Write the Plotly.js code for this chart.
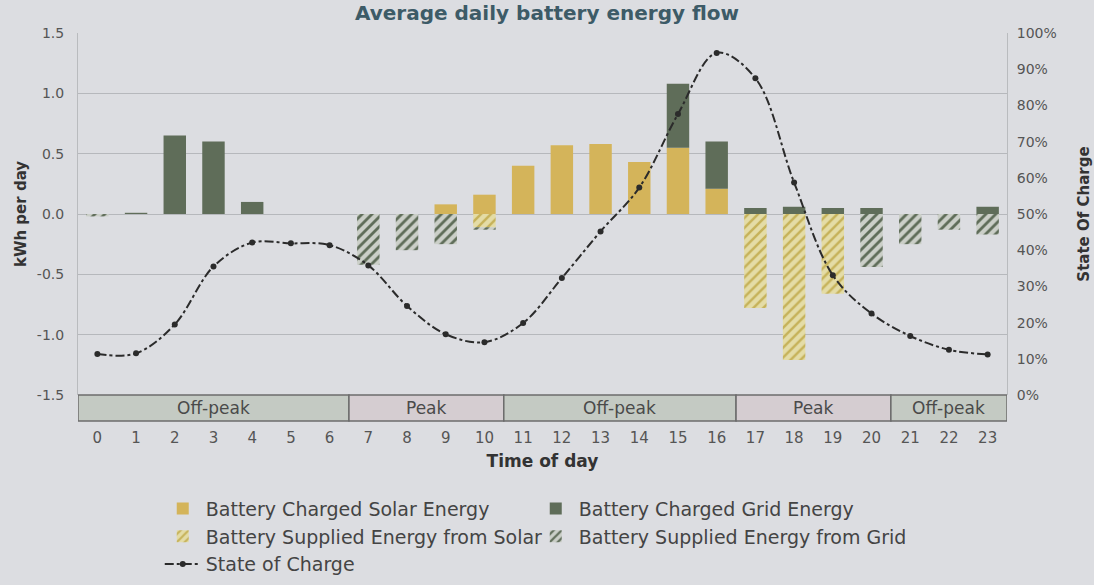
<!DOCTYPE html>
<html>
<head>
<meta charset="utf-8">
<script src="https://cdn.plot.ly/plotly-3.0.1.min.js"></script>
<style>html,body{margin:0;padding:0;background:#dcdde1;}</style>
</head>
<body>
<div id="chart" style="width:1094px;height:585px;"></div>
<script>
const hours = [0,1,2,3,4,5,6,7,8,9,10,11,12,13,14,15,16,17,18,19,20,21,22,23];
const chargedSolar   = [0,0,0,0,0,0,0,0,0,0.08,0.16,0.40,0.57,0.58,0.43,0.55,0.21,0,0,0,0,0,0,0];
const chargedGrid    = [0,0.01,0.65,0.60,0.10,0,0,0,0,0,0,0,0,0,0,0.53,0.39,0.05,0.06,0.05,0.05,0,0,0.06];
const suppliedSolar  = [0,0,0,0,0,0,0,0,0,0,-0.11,0,0,0,0,0,0,-0.78,-1.21,-0.66,0,0,0,0];
const suppliedGrid   = [-0.02,0,0,0,0,0,0,-0.42,-0.30,-0.25,-0.02,0,0,0,0,0,0,0,0,0,-0.44,-0.25,-0.13,-0.17];
const stateOfCharge  = [11.3,11.5,19.5,35.5,42.1,41.9,41.4,35.8,24.6,16.8,14.6,19.9,32.3,45.2,57.3,77.6,94.5,87.5,58.7,33.1,22.5,16.3,12.5,11.2];
const periodLabels = ["Off-peak","Peak","Off-peak","Peak","Off-peak"];
const periodStart  = [-0.5,6.5,10.5,16.5,20.5];
const periodEnd    = [6.5,10.5,16.5,20.5,23.5];
const yTicks = [-1.5,-1.0,-0.5,0.0,0.5,1.0,1.5];
const yTickText = ["-1.5","-1.0","-0.5","0.0","0.5","1.0","1.5"];
const socTicks = [0,10,20,30,40,50,60,70,80,90,100];
const socTickText = ["0%","10%","20%","30%","40%","50%","60%","70%","80%","90%","100%"];

const FONT = "DejaVu Sans, Open Sans, sans-serif";
const data = [
  {type:'bar', name:'Battery Charged Solar Energy', x:hours, y:chargedSolar,
   marker:{color:'#d4b45a'}},
  {type:'bar', name:'Battery Charged Grid Energy', x:hours, y:chargedGrid,
   marker:{color:'#5f6d59'}},
  {type:'bar', name:'Battery Supplied Energy from Solar', x:hours, y:suppliedSolar,
   marker:{color:'#e4dca6', pattern:{shape:'/', fgcolor:'#c6b259', bgcolor:'#e4dca6', size:7, solidity:0.35}}},
  {type:'bar', name:'Battery Supplied Energy from Grid', x:hours, y:suppliedGrid,
   marker:{color:'#cbcfc8', pattern:{shape:'/', fgcolor:'#5f6d59', bgcolor:'#cbcfc8', size:7, solidity:0.4}}},
  {type:'scatter', mode:'lines+markers', name:'State of Charge', x:hours, y:stateOfCharge, yaxis:'y2',
   line:{color:'#2b2b2b', width:2, dash:'dashdot', shape:'spline', smoothing:1},
   marker:{color:'#2b2b2b', size:6}}
];

const shapes = [];
const annotations = [];
for (let i=0;i<periodLabels.length;i++){
  shapes.push({type:'rect', xref:'x', yref:'paper', x0:periodStart[i], x1:periodEnd[i], y0:-0.072, y1:0,
    fillcolor: periodLabels[i]==='Peak' ? '#d5cdd1' : '#c4cac3',
    line:{color:'#6c6c6c', width:1.5}, layer:'above'});
  annotations.push({xref:'x', yref:'paper', x:(periodStart[i]+periodEnd[i])/2, y:-0.036, text:periodLabels[i],
    showarrow:false, font:{family:FONT, size:17, color:'#4a4a4a'}, yanchor:'middle'});
}

const layout = {
  width:1094, height:585,
  paper_bgcolor:'#dcdde1', plot_bgcolor:'#dcdde1',
  margin:{l:78, r:87, t:33, b:190},
  barmode:'relative', bargap:0.42,
  font:{family:FONT, color:'#4a4a4a'},
  title:{text:'Average daily battery energy flow', x:0.5, xanchor:'center', y:0.99, yref:'container', yanchor:'top',
         pad:{t:0,b:0}, automargin:false, font:{family:FONT, size:20, color:'#3d5b67', weight:'bold'}},
  xaxis:{range:[-0.5,23.5], tickmode:'array', tickvals:hours, ticktext:hours.map(String), showgrid:false, zeroline:false,
         automargin:false,
         ticks:'outside', ticklen:29, tickcolor:'rgba(0,0,0,0)', tickfont:{size:15, color:'#555'},
         title:{text:'Time of day', font:{size:17, color:'#333', weight:'bold'}, standoff:9}},
  yaxis:{range:[-1.5,1.5], tickmode:'array', tickvals:yTicks, ticktext:yTickText, gridcolor:'#b6b8bc', gridwidth:1, zeroline:false,
         automargin:false,
         showline:true, linecolor:'#b9bbbe', ticks:'outside', ticklen:10, tickcolor:'rgba(0,0,0,0)',
         tickfont:{size:14, color:'#555'},
         title:{text:'kWh per day', font:{size:15, color:'#333', weight:'bold'}, standoff:6}},
  yaxis2:{overlaying:'y', side:'right', range:[0,100], tickmode:'array', tickvals:socTicks, ticktext:socTickText,
          showgrid:false, zeroline:false, automargin:false,
          showline:true, linecolor:'#b9bbbe', ticks:'outside', ticklen:6, tickcolor:'rgba(0,0,0,0)',
          tickfont:{size:14, color:'#555'},
          title:{text:'State Of Charge', font:{size:15, color:'#333', weight:'bold'}, standoff:22}},
  legend:{orientation:'h', x:0.088, xanchor:'left', y:0.163, yref:'container', yanchor:'top', bgcolor:'rgba(0,0,0,0)',
          font:{size:19, color:'#444'}, entrywidth:322, entrywidthmode:'pixels', traceorder:'normal',
          itemwidth:36},
  shapes:shapes, annotations:annotations
};

Plotly.newPlot('chart', data, layout, {displayModeBar:false, staticPlot:true});
</script>
</body>
</html>
